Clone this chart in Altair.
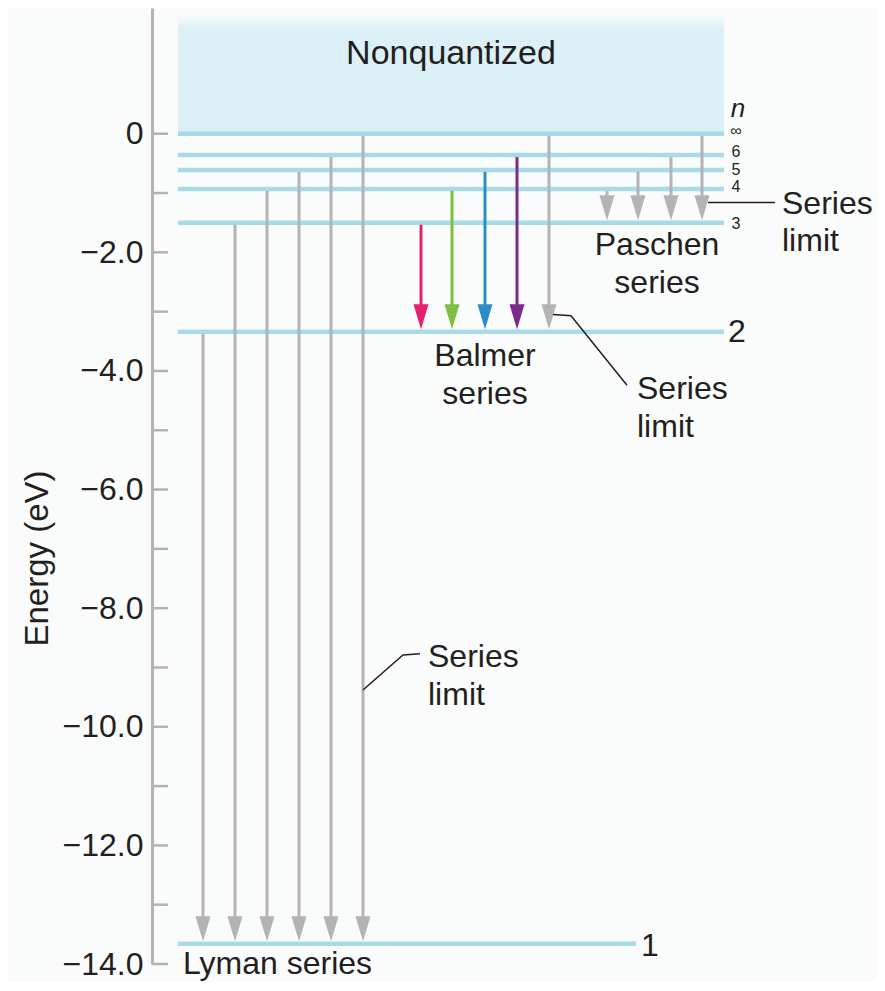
import altair as alt
import pandas as pd

FONT = "Liberation Sans, Arial, sans-serif"
INK = "#231f20"
GRAY = "#b3b3b3"
LEVEL_BLUE = "#a9dbe7"

# ---- energy levels (eV) ----
level_n = ["1", "2", "3", "4", "5", "6", "∞"]
level_energy = [-13.66, -3.34, -1.50, -0.93, -0.61, -0.36, 0.0]
level_x0 = [26, 26, 26, 26, 26, 26, 26]
level_x1 = [484, 572, 572, 572, 572, 572, 572]

# ---- nonquantized band ----
band_x = [26, 572]
band_energy = [0.0, 2.0]

# ---- axis ----
tick_energies = list(range(-14, 1))
label_energies = [-14, -12, -10, -8, -6, -4, -2, 0]

# ---- transitions (horizontal slot, upper level -> lower level) ----
lyman_from = ["2", "3", "4", "5", "6", "∞"]
lyman_x = [51, 83, 115, 147, 179, 211]
balmer_from = ["3", "4", "5", "6", "∞"]
balmer_x = [269, 300, 333, 365, 397]
balmer_color = ["#e3216f", "#7dbf43", "#2c8cc5", "#7a2b8c", GRAY]
paschen_from = ["4", "5", "6", "∞"]
paschen_x = [455, 486, 519, 550]

# ---- leader lines for "Series limit" ----
leader_id = ["a", "a", "b", "b", "b", "c", "c", "c"]
leader_order = [0, 1, 0, 1, 2, 0, 1, 2]
leader_x = [556, 623, 401, 419, 475, 211, 251, 268]
leader_e = [-1.16, -1.16, -3.05, -3.07, -4.24, -9.38, -8.79, -8.77]

# ---- labels ----
center_text = ["2", "1", "Paschen", "series", "Balmer", "series"]
center_x = [585, 498, 505, 505, 333, 333]
center_e = [-3.52, -13.86, -2.05, -2.69, -3.91, -4.56]

title_text = ["Nonquantized"]
title_x = [299]
title_e = [1.18]

left_text = ["Series", "limit", "Series", "limit", "Series", "limit", "Lyman series"]
left_x = [630, 630, 485, 485, 276, 276, 31]
left_e = [-1.35, -1.98, -4.48, -5.11, -9.00, -9.63, -14.17]

small_text = ["∞", "6", "5", "4", "3"]
small_x = [584, 584, 584, 584, 584]
small_e = [-0.04, -0.40, -0.70, -0.99, -1.61]

n_text = ["n"]
n_x = [586]
n_e = [0.29]

# ---- tables ----
e_of = dict(zip(level_n, level_energy))
rows = []
for f, x in zip(lyman_from, lyman_x):
    rows.append({"x": x, "e_from": e_of[f], "e_to": e_of["1"], "color": GRAY})
for f, x, c in zip(balmer_from, balmer_x, balmer_color):
    rows.append({"x": x, "e_from": e_of[f], "e_to": e_of["2"], "color": c})
for f, x in zip(paschen_from, paschen_x):
    rows.append({"x": x, "e_from": e_of[f], "e_to": e_of["3"], "color": GRAY})
trans = pd.DataFrame(rows)

levels = pd.DataFrame({"n": level_n, "e": level_energy, "x0": level_x0, "x1": level_x1})
band = pd.DataFrame({"x0": [band_x[0]], "x1": [band_x[1]], "e0": [band_energy[0]], "e1": [band_energy[1]]})
ticks = pd.DataFrame({"e": tick_energies})
leaders = pd.DataFrame({"id": leader_id, "o": leader_order, "x": leader_x, "e": leader_e})
ctext = pd.DataFrame({"t": center_text, "x": center_x, "e": center_e})
ttext = pd.DataFrame({"t": title_text, "x": title_x, "e": title_e})
ltext = pd.DataFrame({"t": left_text, "x": left_x, "e": left_e})
stext = pd.DataFrame({"t": small_text, "x": small_x, "e": small_e})
ntext = pd.DataFrame({"t": n_text, "x": n_x, "e": n_e})

W, H = 725, 956
xs = alt.Scale(domain=[0, 725], nice=False, zero=False)
ys = alt.Scale(domain=[-14, 2.12], nice=False, zero=False)
yaxis = alt.Axis(
    title="Energy (eV)", values=label_energies, ticks=False, tickSize=0,
    labelPadding=9, grid=False, domainColor=GRAY, domainWidth=3,
    labelFont=FONT, labelFontSize=32, labelColor=INK, labelFlush=False,
    labelOverlap=False, labelBound=False,
    labelExpr="datum.value == 0 ? '0' : format(datum.value, '.1f')",
    titleFont=FONT, titleFontSize=33, titleFontWeight="normal", titleColor=INK,
    titleAngle=-90, titleX=-115, titleY=550, titleAlign="center", titleBaseline="middle",
)


def X(field):
    return alt.X(field, type="quantitative", scale=xs, axis=None)


def Y(field):
    return alt.Y(field, type="quantitative", scale=ys, axis=yaxis)


band_layer = alt.Chart(band).mark_rect(
    color=alt.Gradient(
        gradient="linear",
        stops=[alt.GradientStop(color="#f9fcfb", offset=0),
               alt.GradientStop(color="#dcf0f7", offset=0.12),
               alt.GradientStop(color="#dbeff7", offset=1)],
        x1=0, x2=0, y1=0, y2=1,
    )
).encode(x=X("x0"), x2="x1", y=Y("e1"), y2="e0")

level_layer = alt.Chart(levels).mark_rule(color=LEVEL_BLUE, strokeWidth=4.5).encode(
    x=X("x0"), x2="x1", y=Y("e"))

tick_layer = alt.Chart(ticks).mark_rule(color=GRAY, strokeWidth=2.5).encode(
    x=alt.value(0), x2=alt.value(16), y=Y("e"))

shaft_layer = alt.Chart(trans).mark_rule(strokeWidth=3, yOffset=2, y2Offset=-12).encode(
    x=X("x"), y=Y("e_from"), y2="e_to", color=alt.Color("color:N", scale=None))

head_layer = alt.Chart(trans).mark_point(
    shape="M-0.6,-1L0.6,-1L0,1Z", size=625, filled=True, opacity=1, strokeWidth=0, yOffset=-15
).encode(x=X("x"), y=Y("e_to"), color=alt.Color("color:N", scale=None))

leader_layer = alt.Chart(leaders).mark_line(color=INK, strokeWidth=1.5).encode(
    x=X("x"), y=Y("e"), detail="id:N", order="o:Q")

ttext_layer = alt.Chart(ttext).mark_text(
    font=FONT, fontSize=34, color=INK, align="center", baseline="alphabetic"
).encode(x=X("x"), y=Y("e"), text="t:N")

ctext_layer = alt.Chart(ctext).mark_text(
    font=FONT, fontSize=32, color=INK, align="center", baseline="alphabetic"
).encode(x=X("x"), y=Y("e"), text="t:N")

ltext_layer = alt.Chart(ltext).mark_text(
    font=FONT, fontSize=32, color=INK, align="left", baseline="alphabetic"
).encode(x=X("x"), y=Y("e"), text="t:N")

stext_layer = alt.Chart(stext).mark_text(
    font=FONT, fontSize=16, color=INK, align="center", baseline="alphabetic"
).encode(x=X("x"), y=Y("e"), text="t:N")

ntext_layer = alt.Chart(ntext).mark_text(
    font=FONT, fontSize=26, fontStyle="italic", color=INK, align="center", baseline="alphabetic"
).encode(x=X("x"), y=Y("e"), text="t:N")

chart = alt.layer(
    band_layer, level_layer, tick_layer, shaft_layer, head_layer, leader_layer,
    ttext_layer, ctext_layer, ltext_layer, stext_layer, ntext_layer,
).properties(
    width=W, height=H,
    autosize=alt.AutoSizeParams(type="none"),
    padding={"left": 144, "top": 0, "right": 0, "bottom": 18},
    background="#f9fcfb",
).configure_view(stroke=None)

chart.save("out.html", embed_options={"renderer": "svg", "actions": False})
